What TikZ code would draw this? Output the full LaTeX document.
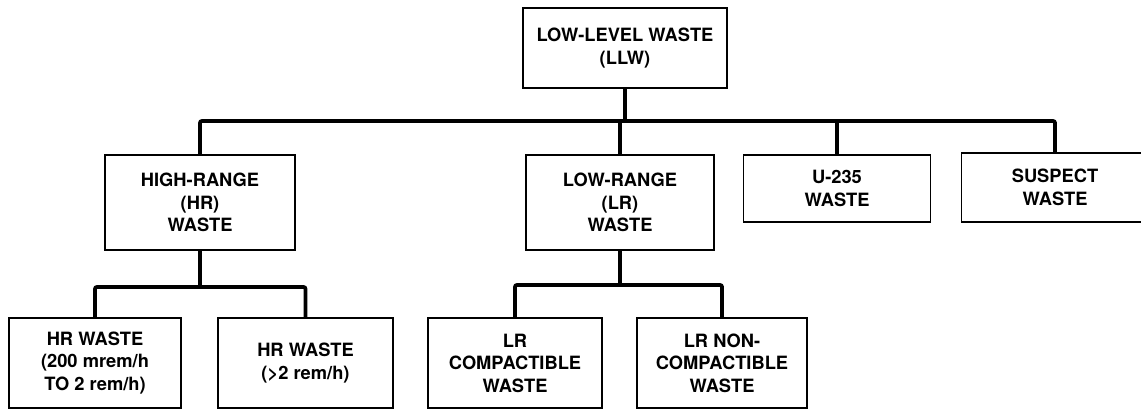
\documentclass[tikz,border=0pt]{standalone}
\usepackage{fontspec}
\setmainfont{TeX Gyre Heros}
\begin{document}
\begin{tikzpicture}[x=1pt,y=-1pt,
  box/.style={draw=black,line width=1.6pt,align=center,inner sep=0pt,
    font=\fontsize{18.3}{22.5}\selectfont\bfseries},
  conn/.style={draw=black,line width=3.8pt,rounded corners=2pt}]
\useasboundingbox (0,0) rectangle (1141,410);
\clip (0,0) rectangle (1141,410);
% boxes
\node[box,minimum width=204pt,minimum height=80pt] (llw) at (625,48) {LOW-LEVEL WASTE\\(LLW)};
\node[box,minimum width=190pt,minimum height=95pt] (hr) at (200,202.5) {HIGH-RANGE\\(HR)\\WASTE};
\node[box,minimum width=188pt,minimum height=95pt] (lr) at (620,202.5) {LOW-RANGE\\(LR)\\WASTE};
\node[box,minimum width=187pt,minimum height=67pt] (u235) at (837,188.5) {U-235\\WASTE};
\node[box,minimum width=187pt,minimum height=69pt] (sus) at (1055,187.5) {SUSPECT\\WASTE};
\node[box,minimum width=172pt,minimum height=90pt] (hr1) at (95,363) {HR WASTE\\(200 mrem/h\\TO 2 rem/h)};
\node[box,minimum width=175pt,minimum height=90pt] (hr2) at (305.5,363) {HR WASTE\\(>2 rem/h)};
\node[box,minimum width=174pt,minimum height=90pt] (lr1) at (515,363) {LR\\COMPACTIBLE\\WASTE};
\node[box,minimum width=170pt,minimum height=90pt] (lr2) at (722,363) {LR NON-\\COMPACTIBLE\\WASTE};
% bus coordinates
\coordinate (bus) at (0,121);
\coordinate (hrbus) at (0,287);
\coordinate (lrbus) at (0,285);
% connectors
\draw[conn] (hr.north) -- (hr.north |- bus) -- (sus.north |- bus) -- (sus.north);
\draw[conn] (llw.south) -- (llw.south |- bus);
\draw[conn] (lr.north) -- (lr.north |- bus);
\draw[conn] (u235.north) -- (u235.north |- bus);
\draw[conn] (hr1.north) -- (hr1.north |- hrbus) -- (hr2.north |- hrbus) -- (hr2.north);
\draw[conn] (hr.south) -- (hr.south |- hrbus);
\draw[conn] (lr1.north) -- (lr1.north |- lrbus) -- (lr2.north |- lrbus) -- (lr2.north);
\draw[conn] (lr.south) -- (lr.south |- lrbus);
\end{tikzpicture}
\end{document}
